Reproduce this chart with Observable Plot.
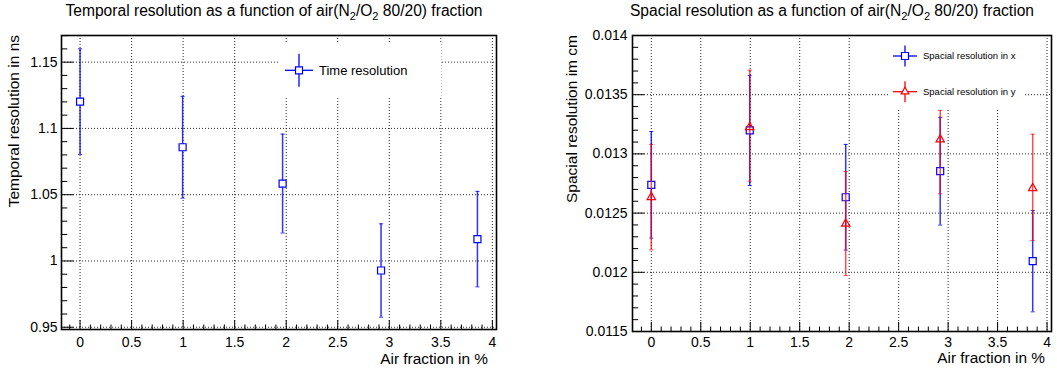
<!DOCTYPE html>
<html>
<head>
<meta charset="utf-8">
<script src="https://cdn.jsdelivr.net/npm/d3@7"></script>
<script src="https://cdn.jsdelivr.net/npm/@observablehq/plot@0.6"></script>
<style>
  body { margin: 0; background: #fff; font-family: "Liberation Sans", Arial, Helvetica, sans-serif; }
  #wrap { position: relative; width: 1057px; height: 372px; overflow: hidden; background: #fff; }
  .panel { position: absolute; top: 0; }
  .title { position: absolute; top: 2px; font-size: 15.6px; line-height: 18px; white-space: nowrap; transform: translateX(-50%); color: #000; }
  .title sub { font-size: 11px; vertical-align: -4px; line-height: 0; }
  .ylab { position: absolute; width: 300px; text-align: right; font-size: 15.5px; line-height: 18px; white-space: nowrap; transform: rotate(-90deg); transform-origin: 0 0; color: #000; }
  .xlab { position: absolute; width: 300px; text-align: right; font-size: 15.4px; line-height: 18px; white-space: nowrap; color: #000; }
  .legend { position: absolute; }
</style>
</head>
<body>
<div id="wrap">
  <div class="title" style="left:274px">Temporal resolution as a function of air(N<sub>2</sub>/O<sub>2</sub> 80/20) fraction</div>
  <div class="title" style="left:832px">Spacial resolution as a function of air(N<sub>2</sub>/O<sub>2</sub> 80/20) fraction</div>
</div>
<script>
// ---- data ----
const airFraction = [0, 0.995, 1.965, 2.92, 3.855];
const timeResolution = [1.1202, 1.0858, 1.0584, 0.9928, 1.0165];
const timeResolutionErr = [0.0398, 0.0384, 0.0373, 0.0352, 0.036];
const spacialResX = [0.012739, 0.013198, 0.012634, 0.012854, 0.012094];
const spacialResXErr = [0.00045, 0.000465, 0.000446, 0.000455, 0.000428];
const spacialResY = [0.012634, 0.013226, 0.01241, 0.013122, 0.01271];
const spacialResYErrLow = [0.000444, 0.000457, 0.000437, 0.000459, 0.000442];
const spacialResYErrHigh = [0.000445, 0.000481, 0.000441, 0.000245, 0.000456];
const xTicks = [0, 0.5, 1, 1.5, 2, 2.5, 3, 3.5, 4];
const yTicksTime = [0.95, 1, 1.05, 1.1, 1.15];
const yTicksSpace = [0.0115, 0.012, 0.0125, 0.013, 0.0135, 0.014];
const legendTime = ["Time resolution"];
const legendSpace = ["Spacial resolution in x", "Spacial resolution in y"];
const xTitle = "Air fraction in %";
const yTitleTime = "Temporal resolution in ns";
const yTitleSpace = "Spacial resolution im cm";

const timeData = airFraction.map((x, i) => ({x, y: timeResolution[i], lo: timeResolution[i] - timeResolutionErr[i], hi: timeResolution[i] + timeResolutionErr[i]}));
const resXData = airFraction.map((x, i) => ({x, y: spacialResX[i], lo: spacialResX[i] - spacialResXErr[i], hi: spacialResX[i] + spacialResXErr[i]}));
const resYData = airFraction.map((x, i) => ({x, y: spacialResY[i], lo: spacialResY[i] - spacialResYErrLow[i], hi: spacialResY[i] + spacialResYErrHigh[i]}));

const BLUE = "#0000ff", RED = "#ff0000";
const capSymbol = {draw(ctx, size) { const w = Math.sqrt(size) / 2; ctx.moveTo(-w, 0); ctx.lineTo(w, 0); }};

function minorTicks(domain, step, majors) {
  const out = [];
  const n0 = Math.ceil(domain[0] / step - 1e-9), n1 = Math.floor(domain[1] / step + 1e-9);
  for (let n = n0; n <= n1; n++) {
    const v = +(n * step).toPrecision(10);
    if (!majors.some(m => Math.abs(m - v) < step / 100)) out.push(v);
  }
  return out;
}

function errorMarks(data, color, opacity, symbol, r, fill) {
  return [
    Plot.ruleX(data, {x: "x", y1: "lo", y2: "hi", stroke: color, strokeOpacity: opacity, strokeWidth: 1.5}),
    Plot.dot(data, {x: "x", y: "hi", symbol: capSymbol, r: 2.3, stroke: color, strokeOpacity: opacity, strokeWidth: 1}),
    Plot.dot(data, {x: "x", y: "lo", symbol: capSymbol, r: 2.3, stroke: color, strokeOpacity: opacity, strokeWidth: 1}),
    Plot.dot(data, {x: "x", y: "y", symbol, r, stroke: color, fill, strokeWidth: 1.2})
  ];
}

function makePanel(cfg) {
  const fw = cfg.width - cfg.ml - cfg.mr, fh = cfg.height - cfg.mt - cfg.mb;
  const xMinor = minorTicks(cfg.xDomain, 0.1, xTicks);
  const yMinor = minorTicks(cfg.yDomain, cfg.yMinorStep, cfg.yTicks);
  const grid = {stroke: "#000", strokeOpacity: 0.85, strokeDasharray: "1,2", strokeWidth: 1};
  return Plot.plot({
    width: cfg.width, height: cfg.height,
    marginLeft: cfg.ml, marginRight: cfg.mr, marginTop: cfg.mt, marginBottom: cfg.mb,
    x: {domain: cfg.xDomain},
    y: {domain: cfg.yDomain},
    style: {fontFamily: "'Liberation Sans', Arial, Helvetica, sans-serif", fontSize: "14px", color: "#000", background: "transparent", overflow: "visible"},
    marks: [
      Plot.gridX(xTicks, grid),
      Plot.gridY(cfg.yTicks, grid),
      Plot.tickX(xTicks, {x: d => d, insetTop: fh - 9, stroke: "#000", strokeWidth: 1}),
      Plot.tickX(xMinor, {x: d => d, insetTop: fh - 4.5, stroke: "#000", strokeWidth: 1}),
      Plot.tickY(cfg.yTicks, {y: d => d, insetRight: fw - cfg.tyLen, stroke: "#000", strokeWidth: 1}),
      Plot.tickY(yMinor, {y: d => d, insetRight: fw - cfg.tyLen / 2, stroke: "#000", strokeWidth: 1}),
      Plot.axisX(xTicks, {tickSize: 0, tickPadding: cfg.padX, tickFormat: d => String(d), label: null}),
      Plot.axisY(cfg.yTicks, {tickSize: 0, tickPadding: cfg.padY, tickFormat: d => String(d), label: null}),
      ...cfg.marks,
      Plot.frame({stroke: "#000", strokeWidth: 1.6})
    ]
  });
}

const wrap = document.getElementById("wrap");

const leftSvg = makePanel({
  width: 528, height: 372, ml: 61, mr: 32, mt: 35, mb: 43,
  xDomain: [-0.18, 4.04], yDomain: [0.9483, 1.1701],
  yTicks: yTicksTime, yMinorStep: 0.01, tyLen: 12.6, padX: 8, padY: 4,
  marks: errorMarks(timeData, BLUE, 0.8, "square", 3.95, "#fff")
});
leftSvg.classList.add("panel");
leftSvg.style.left = "0px";

const rightSvg = makePanel({
  width: 529, height: 372, ml: 104, mr: 6, mt: 35, mb: 41,
  xDomain: [-0.19, 4.045], yDomain: [0.0115, 0.014],
  yTicks: yTicksSpace, yMinorStep: 0.0001, tyLen: 12.4, padX: 6, padY: 5,
  marks: [
    ...errorMarks(resXData, BLUE, 0.8, "square", 3.95, "#fff"),
    ...errorMarks(resYData, RED, 0.7, "triangle", 3.1, "none")
  ]
});
rightSvg.classList.add("panel");
rightSvg.style.left = "528px";

wrap.appendChild(leftSvg);
wrap.appendChild(rightSvg);

// axis titles
function addDiv(cls, text, left, top) {
  const d = document.createElement("div");
  d.className = cls; d.textContent = text;
  d.style.left = left + "px"; d.style.top = top + "px";
  wrap.appendChild(d);
}
addDiv("ylab", yTitleTime, 5, 335);
addDiv("ylab", yTitleSpace, 563, 335);
addDiv("xlab", xTitle, 188, 350);
addDiv("xlab", xTitle, 745, 349);

// legends
function legendBox(left, top, w, h, entries, fontSize) {
  const svg = d3.create("svg").attr("class", "legend").attr("width", w).attr("height", h)
    .style("left", left + "px").style("top", top + "px");
  svg.append("rect").attr("width", w).attr("height", h).attr("fill", "#fff");
  entries.forEach(e => {
    const g = svg.append("g").attr("transform", `translate(${e.cx},${e.cy})`);
    g.append("line").attr("x1", -e.hw).attr("x2", e.hw).attr("stroke", e.color).attr("stroke-width", 1.3);
    g.append("line").attr("y1", -e.vh).attr("y2", e.vh).attr("stroke", e.color).attr("stroke-width", 1.3);
    const sym = d3.symbol(e.symbol === "square" ? d3.symbolSquare : d3.symbolTriangle, e.size);
    g.append("path").attr("d", sym()).attr("fill", e.fill).attr("stroke", e.color).attr("stroke-width", 1.2);
    svg.append("text").attr("x", e.tx).attr("y", e.cy).attr("dy", "0.35em")
      .attr("font-size", fontSize).attr("font-family", "'Liberation Sans', Arial, sans-serif")
      .attr("fill", "#000").text(e.label);
  });
  wrap.appendChild(svg.node());
}
legendBox(278, 43, 163, 55, [
  {cx: 21, cy: 27.3, hw: 14, vh: 16.5, color: BLUE, symbol: "square", size: 49, fill: "#fff", tx: 41, label: legendTime[0]}
], "13px");
legendBox(890, 37, 135, 73, [
  {cx: 15, cy: 19, hw: 12, vh: 10.5, color: BLUE, symbol: "square", size: 49, fill: "#fff", tx: 33, label: legendSpace[0]},
  {cx: 15, cy: 54.7, hw: 12, vh: 10.5, color: RED, symbol: "triangle", size: 26, fill: "#fff", tx: 33, label: legendSpace[1]}
], "9.5px");
</script>
</body>
</html>
